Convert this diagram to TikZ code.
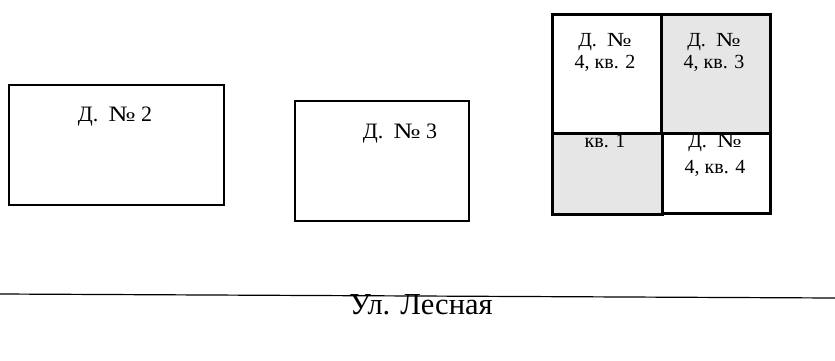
\documentclass[tikz,border=0pt]{standalone}
\usepackage{fontspec}
\setmainfont{Liberation Serif}
\usepackage{tikz}
\usetikzlibrary{positioning}
\definecolor{flatgrey}{RGB}{230,230,230}
\newcommand{\numsign}{\scalebox{1.3}[1]{№}}

\begin{document}
\begin{tikzpicture}[x=1pt, y=-1pt,
				house/.style={draw, line width=2pt, anchor=north west, inner sep=0pt},
				flat/.style={draw, line width=2.6pt, anchor=north west, inner sep=0pt},
				houselabel/.style={font=\fontsize{22}{26}\selectfont, anchor=base, inner sep=0pt},
				flatlabel/.style={font=\fontsize{20}{22}\selectfont, anchor=base, inner sep=0pt, align=center}]
				\useasboundingbox (0,0) rectangle (835,360);
				% houses on the left
				\node at (8,84) (d2) [house, minimum width=215pt, minimum height=120pt] {};
				\node at (294,100) (d3) [house, minimum width=174pt, minimum height=120pt] {};
				\node at (115,121) (t2) [houselabel] {Д.\hspace{10pt}\numsign\ 2};
				\node at (400,138) (t3) [houselabel] {Д.\hspace{10pt}\numsign\ 3};
				% house 4, four flats
				\node at (551,13) (k2) [flat, minimum width=109pt, minimum height=119pt] {};
				\node at (660,13) (k3) [flat, fill=flatgrey, minimum width=109pt, minimum height=119pt] {};
				\node at (551,132) (k1) [flat, fill=flatgrey, minimum width=110pt, minimum height=81pt] {};
				\node at (661,132) (k4) [flat, minimum width=108pt, minimum height=80pt] {};
				\node at (605,68) (tk2) [flatlabel] {Д.~~\numsign\\4, кв. 2};
				\node at (714,68) (tk3) [flatlabel] {Д.~~\numsign\\4, кв. 3};
				\node at (605,147) (tk1) [flatlabel] {кв. 1};
				\node at (715,173) (tk4) [flatlabel] {Д.~~\numsign\\[4pt]4, кв. 4};
				% street
				\coordinate (s1) at (0,294);
				\coordinate (s2) at (835,298);
				\node at (421,314) (street) [houselabel, font=\fontsize{30.5}{34}\selectfont] {Ул. Лесная};
				\draw[line width=1.2pt] (s1) -- (s2);
			\end{tikzpicture}
\end{document}
